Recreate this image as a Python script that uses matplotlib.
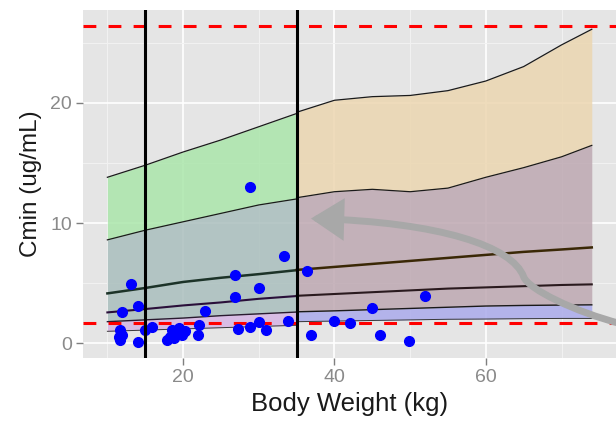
import matplotlib
matplotlib.use('Agg')
import matplotlib.pyplot as plt
from matplotlib.path import Path
from matplotlib.patches import FancyArrowPatch
from matplotlib.colors import to_rgb
import numpy as np

plt.rcParams['font.family'] = ['Liberation Sans', 'DejaVu Sans']

# prediction bands, weight <= 35 kg
wt_lo = [10, 15, 20, 25, 30, 35]
top_lo = [13.8, 14.8, 15.9, 16.9, 18.0, 19.1]
upper_lo = [8.6, 9.4, 10.1, 10.8, 11.5, 12.0]
median_lo = [4.15, 4.6, 5.1, 5.45, 5.75, 6.08]
lower_lo = [2.57, 2.85, 3.15, 3.4, 3.7, 3.93]
band_top_lo = [1.8, 1.95, 2.1, 2.3, 2.45, 2.6]
band_bot_lo = [1.0, 1.1, 1.2, 1.3, 1.4, 1.5]

# prediction bands, weight >= 35 kg
wt_hi = [35, 40, 45, 50, 55, 60, 65, 70, 74]
top_hi = [19.2, 20.2, 20.5, 20.6, 21.0, 21.8, 23.0, 24.8, 26.1]
upper_hi = [12.1, 12.6, 12.8, 12.6, 12.9, 13.8, 14.6, 15.5, 16.45]
median_hi = [6.1, 6.35, 6.6, 6.85, 7.1, 7.35, 7.6, 7.8, 7.97]
lower_hi = [3.95, 4.1, 4.25, 4.4, 4.55, 4.65, 4.75, 4.85, 4.9]
band_top_hi = [2.62, 2.7, 2.8, 2.9, 3.0, 3.1, 3.15, 3.18, 3.2]
band_bot_hi = [1.8, 1.85, 1.9, 1.95, 2.0, 2.02, 2.05, 2.07, 2.07]

# observed
wt_obs = [13.1, 14.0, 11.9, 22.9, 11.7, 11.5, 11.9, 11.7, 14.0, 15.0, 15.9,
          17.9, 18.3, 18.8, 19.0, 19.4, 19.9, 19.6, 18.6, 20.2, 22.1, 22.0,
          28.9, 33.3, 26.8, 30.0, 26.8, 36.4, 30.0, 27.3, 28.9, 30.9, 33.9,
          36.9, 39.9, 52.0, 44.9, 42.0, 46.0, 49.9]
cmin_obs = [4.92, 3.12, 2.62, 2.7, 1.1, 0.55, 0.69, 0.27, 0.08, 1.1, 1.33,
            0.27, 0.55, 0.41, 0.96, 1.24, 0.69, 1.0, 1.1, 1.0, 1.52, 0.69,
            13.0, 7.24, 5.67, 4.62, 3.87, 6.03, 1.8, 1.16, 1.33, 1.1, 1.88,
            0.69, 1.88, 3.93, 2.96, 1.66, 0.69, 0.19]

cut_wt = [15, 35]
target_lines = [26.36, 1.71]

BG = '#e5e5e5'
ALPHA = 0.85


def under(target):
    # colour that gives `target` when drawn with ALPHA over the panel
    t = np.array(to_rgb(target))
    b = np.array(to_rgb(BG))
    return tuple(np.clip((t - (1 - ALPHA) * b) / ALPHA, 0, 1))


fig = plt.figure(figsize=(6.16, 4.21), dpi=100)
ax = fig.add_axes([0.135, 0.1496, 0.865, 0.8266])
ax.set_facecolor(BG)
for s in ax.spines.values():
    s.set_visible(False)

ax.set_xlim(6.8, 77.2)
ax.set_ylim(-1.22, 27.7)
ax.set_xticks([20, 40, 60])
ax.set_yticks([0, 10, 20])
ax.set_xticks([10, 30, 50, 70], minor=True)
ax.set_yticks([5, 15, 25], minor=True)
ax.grid(which='major', color='white', lw=1.2)
ax.grid(which='minor', color='#f2f2f2', lw=0.7)
ax.set_axisbelow(True)
ax.tick_params(which='major', length=5, width=1, color='#7f7f7f',
               labelcolor='#8a8a8a', labelsize=14, pad=3)
ax.tick_params(which='minor', length=0)

# bands
ax.fill_between(wt_lo, upper_lo, top_lo, color=under('#b4e6b4'), alpha=ALPHA, lw=0, zorder=2)
ax.fill_between(wt_lo, band_top_lo, upper_lo, color=under('#b3c5c3'), alpha=ALPHA, lw=0, zorder=2)
ax.fill_between(wt_lo, band_bot_lo, band_top_lo, color=under('#d8bce4'), alpha=ALPHA, lw=0, zorder=2)
ax.fill_between(wt_hi, upper_hi, top_hi, color=under('#ebd8b8'), alpha=ALPHA, lw=0, zorder=2)
ax.fill_between(wt_hi, band_top_hi, upper_hi, color=under('#c4b1ba'), alpha=ALPHA, lw=0, zorder=2)
ax.fill_between(wt_hi, band_bot_hi, band_top_hi, color=under('#b4b4ea'), alpha=ALPHA, lw=0, zorder=2)

# band edges
ax.plot(wt_lo, top_lo, color='#1a1a1a', lw=0.9, zorder=3)
ax.plot(wt_lo, upper_lo, color='#1a1a1a', lw=0.9, zorder=3)
ax.plot(wt_lo, median_lo, color='#1c3328', lw=1.8, zorder=3)
ax.plot(wt_lo, lower_lo, color='#2a0f3a', lw=1.5, zorder=3)
ax.plot(wt_lo, band_top_lo, color='#2a1a30', lw=1.0, zorder=3)
ax.plot(wt_lo, band_bot_lo, color='#3a3a3a', lw=0.7, zorder=3)
ax.plot(wt_hi, top_hi, color='#1a1a1a', lw=0.9, zorder=3)
ax.plot(wt_hi, upper_hi, color='#1a1a1a', lw=0.9, zorder=3)
ax.plot(wt_hi, median_hi, color='#3a2806', lw=1.8, zorder=3)
ax.plot(wt_hi, lower_hi, color='#2a1a1e', lw=1.5, zorder=3)
ax.plot(wt_hi, band_top_hi, color='#1a1a1a', lw=1.0, zorder=3)
ax.plot(wt_hi, band_bot_hi, color='#3a3a3a', lw=0.7, zorder=3)

for y in target_lines:
    ax.axhline(y, color='#ff0000', lw=2.2, dashes=(4.2, 4.0), zorder=4)

ax.plot(wt_obs, cmin_obs, 'o', color='#0000ff', ms=7, mec='#0000ff', zorder=5)

for x in cut_wt:
    ax.axvline(x, color='black', lw=2.2, zorder=6)

# curved grey arrow
verts = [(77.8, 1.64), (71.85, 2.6), (65.6, 4.5), (65.0, 5.53),
         (63.5, 8.07), (53.9, 10.07), (36.9, 10.37)]
codes = [Path.MOVETO] + [Path.CURVE4] * 6
arrow = FancyArrowPatch(path=Path(verts, codes),
                        arrowstyle='-|>,head_length=0.42,head_width=0.27',
                        mutation_scale=40, color='#a8a8a8', lw=5,
                        shrinkA=0, shrinkB=0, zorder=7, joinstyle='miter')
ax.add_patch(arrow)

ax.set_xlabel('Body Weight (kg)', fontsize=18.5, color='#1a1a1a', labelpad=4)
ax.set_ylabel('Cmin (ug/mL)', fontsize=17.5, color='#1a1a1a', labelpad=6)

fig.savefig('out.png', dpi=100)
